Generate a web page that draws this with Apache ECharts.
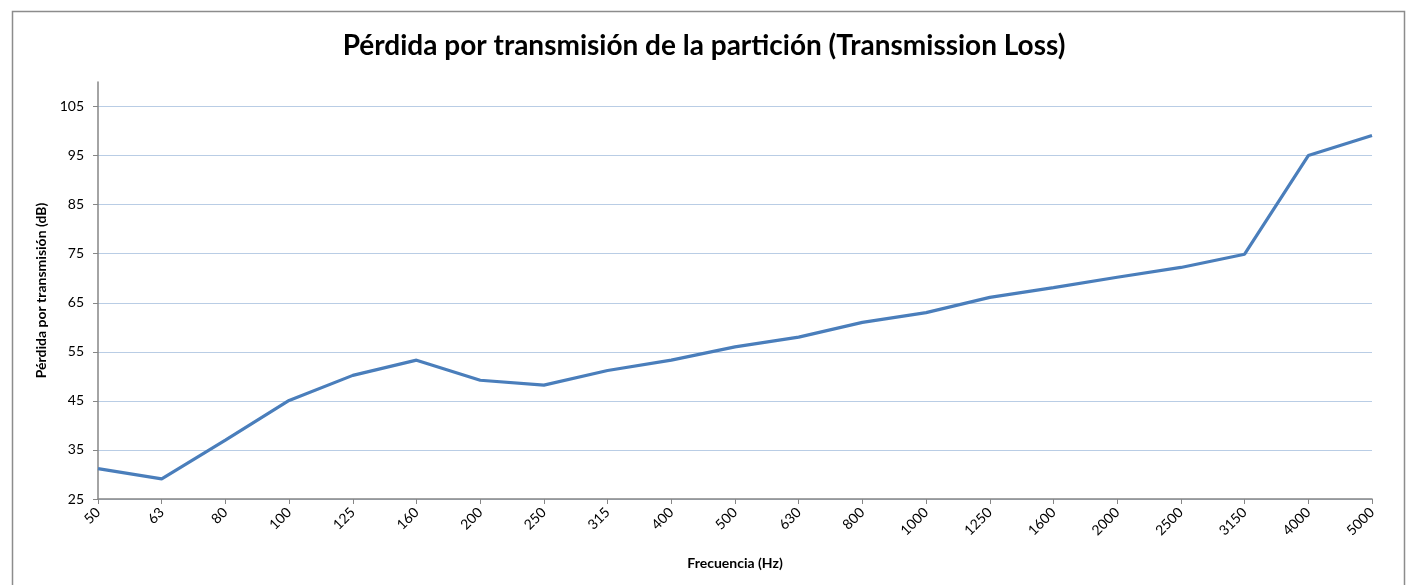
<!DOCTYPE html>
<html>
<head>
<meta charset="utf-8">
<script src="https://cdn.jsdelivr.net/npm/echarts@6/dist/echarts.min.js"></script>
<style>
	html, body { margin: 0; padding: 0; background: #fff; }
	#chart { width: 1408px; height: 585px; }
</style>
</head>
<body>
<div id="chart"></div>
<script>
	var frequencies = [ "50", "63", "80", "100", "125", "160", "200", "250", "315", "400", "500", "630", "800",
			"1000", "1250", "1600", "2000", "2500", "3150", "4000", "5000" ];
	var transmissionLoss = [ 31.2, 29.1, 37, 45.1, 50.2, 53.3, 49.2, 48.2, 51.2, 53.3, 56, 58, 61, 63, 66.1, 68.1,
			70.2, 72.2, 74.9, 95, 99.1 ];

	var chartTitle = "Pérdida por transmisión de la partición (Transmission Loss)";
	var xAxisName = "Frecuencia (Hz)";
	var yAxisName = "Pérdida por transmisión (dB)";
	var yMin = 25, yMax = 110, yStep = 10;

	var font = "Lato, 'Open Sans', sans-serif";
	var gridColor = "#b9cde5";
	var axisColor = "#868686";

	// gridlines cycle through this list, the one at max (110) stays hidden
	var gridColors = [];
	for (var v = yMin; v < yMax; v += yStep) {
		gridColors.push(gridColor);
	}
	gridColors.push("transparent");

	var chart = echarts.init(document.getElementById("chart"));
	chart.setOption({
		animation : false,
		backgroundColor : "#fff",
		graphic : [ {
			type : "rect",
			shape : { x : 12.5, y : 11.5, width : 1392, height : 600 },
			style : { fill : "none", stroke : "#8c8c8c", lineWidth : 1.5 },
			silent : true
		} ],
		title : {
			text : chartTitle,
			left : "center",
			top : 27,
			textStyle : {
				fontFamily : font,
				fontSize : 28,
				fontWeight : "bold",
				color : "#000"
			}
		},
		grid : {
			left : 98,
			right : 36,
			top : 82,
			bottom : 86,
			containLabel : false
		},
		xAxis : {
			type : "category",
			data : frequencies,
			boundaryGap : false,
			name : xAxisName,
			nameLocation : "middle",
			nameGap : 57,
			nameTextStyle : {
				fontFamily : font,
				fontSize : 14,
				fontWeight : "bold",
				color : "#000"
			},
			axisLine : { lineStyle : { color : axisColor, width : 1.5 } },
			axisTick : { alignWithLabel : true, length : 5, lineStyle : { color : axisColor } },
			axisLabel : {
				rotate : 45,
				interval : 0,
				margin : 11,
				fontFamily : font,
				fontSize : 14,
				color : "#000"
			},
			splitLine : { show : false }
		},
		yAxis : {
			type : "value",
			min : yMin,
			max : yMax,
			interval : yStep,
			name : yAxisName,
			nameLocation : "middle",
			nameGap : 45,
			nameTextStyle : {
				fontFamily : font,
				fontSize : 14,
				fontWeight : "bold",
				color : "#000"
			},
			axisLine : { show : true, lineStyle : { color : axisColor, width : 1.5 } },
			axisTick : { show : true, length : 5, lineStyle : { color : axisColor } },
			axisLabel : {
				showMaxLabel : false,
				margin : 14,
				fontFamily : font,
				fontSize : 14,
				color : "#000"
			},
			splitLine : { show : true, lineStyle : { color : gridColors, width : 1.2 } }
		},
		series : [ {
			name : "TL",
			type : "line",
			data : transmissionLoss,
			showSymbol : false,
			lineStyle : { color : "#4a7ebb", width : 3.2 },
			itemStyle : { color : "#4a7ebb" }
		} ]
	});
</script>
</body>
</html>
